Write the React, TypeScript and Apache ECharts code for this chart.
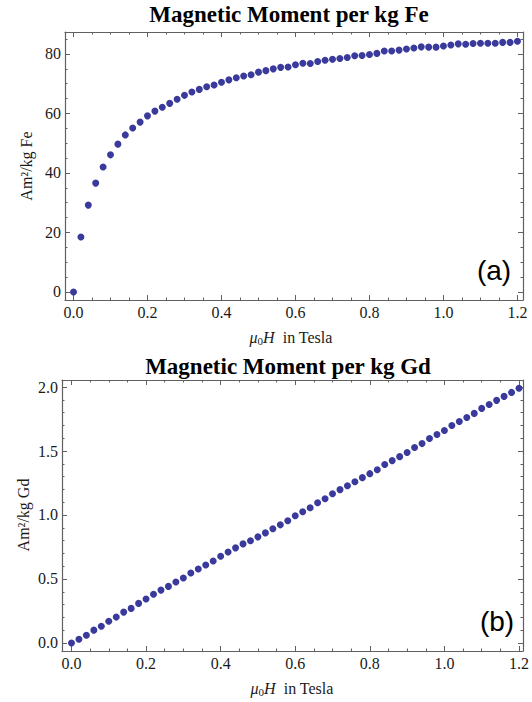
import React, { useEffect, useRef } from "react";
import * as echarts from "echarts";

// Applied field mu0 H in Tesla
const field = [
  0, 0.02, 0.04, 0.06, 0.08, 0.1, 0.12, 0.14, 0.16, 0.18,
  0.2, 0.22, 0.24, 0.26, 0.28, 0.3, 0.32, 0.34, 0.36, 0.38,
  0.4, 0.42, 0.44, 0.46, 0.48, 0.5, 0.52, 0.54, 0.56, 0.58,
  0.6, 0.62, 0.64, 0.66, 0.68, 0.7, 0.72, 0.74, 0.76, 0.78,
  0.8, 0.82, 0.84, 0.86, 0.88, 0.9, 0.92, 0.94, 0.96, 0.98,
  1.0, 1.02, 1.04, 1.06, 1.08, 1.1, 1.12, 1.14, 1.16, 1.18, 1.2,
];

// Magnetic moment per kg Fe (Am^2/kg)
const feMoment = [
  0, 18.5, 29.2, 36.6, 42.0, 46.1, 49.7, 52.8, 55.1, 57.1,
  59.2, 60.8, 62.1, 63.4, 64.8, 66.1, 67.2, 68.1, 69.0, 69.6,
  70.5, 71.3, 72.0, 72.6, 73.0, 73.9, 74.4, 75.0, 75.5, 75.6,
  76.4, 76.9, 76.8, 77.5, 77.9, 78.2, 78.5, 78.8, 79.4, 79.5,
  79.8, 80.2, 81.0, 81.0, 81.3, 81.7, 82.0, 82.4, 82.3, 82.3,
  82.7, 83.0, 83.4, 83.3, 83.5, 83.6, 83.6, 83.6, 83.9, 83.9, 84.3,
];

// Magnetic moment per kg Gd (Am^2/kg)
const gdMoment = [
  0, 0.029, 0.06, 0.1, 0.131, 0.17, 0.202, 0.241, 0.27, 0.309,
  0.343, 0.38, 0.413, 0.442, 0.476, 0.507, 0.547, 0.578, 0.609, 0.641,
  0.678, 0.711, 0.743, 0.774, 0.798, 0.829, 0.86, 0.892, 0.923, 0.955,
  0.994, 1.025, 1.056, 1.096, 1.127, 1.166, 1.198, 1.229, 1.26, 1.292,
  1.323, 1.354, 1.394, 1.425, 1.456, 1.488, 1.527, 1.558, 1.598, 1.629,
  1.66, 1.7, 1.731, 1.762, 1.794, 1.833, 1.864, 1.896, 1.927, 1.958, 1.99,
];

// Tick values
const xMajor = [0, 0.2, 0.4, 0.6, 0.8, 1.0, 1.2];
const xMinor = [
  0.05, 0.1, 0.15, 0.25, 0.3, 0.35, 0.45, 0.5, 0.55, 0.65, 0.7, 0.75,
  0.85, 0.9, 0.95, 1.05, 1.1, 1.15,
];
const feMajor = [0, 20, 40, 60, 80];
const feMinor = [5, 10, 15, 25, 30, 35, 45, 50, 55, 65, 70, 75, 85];
const gdMajor = [0, 0.5, 1.0, 1.5, 2.0];
const gdMinor = [
  0.1, 0.2, 0.3, 0.4, 0.6, 0.7, 0.8, 0.9, 1.1, 1.2, 1.3, 1.4, 1.6, 1.7,
  1.8, 1.9,
];

const FRAME = "#606060";
const SERIF = "'Liberation Serif', 'Times New Roman', serif";
const DOT = "#3a3a9c";

function axisSet(
  dim: "x" | "y",
  gridIndex: number,
  min: number,
  max: number,
  major: number[],
  minor: number[],
  fmt: (v: number) => string
) {
  const pos1 = dim === "x" ? "bottom" : "left";
  const pos2 = dim === "x" ? "top" : "right";
  const base = (position: string, ticks: number[], len: number, line: boolean, labels: boolean) => ({
    type: "value",
    gridIndex,
    position,
    min,
    max,
    splitLine: { show: false },
    axisLine: { show: line, onZero: false, lineStyle: { color: FRAME, width: 1.2 } },
    axisTick: {
      show: true,
      inside: true,
      length: len,
      customValues: ticks,
      lineStyle: { color: FRAME, width: 1 },
    },
    axisLabel: {
      show: labels,
      customValues: ticks,
      formatter: fmt,
      fontFamily: SERIF,
      fontSize: 16,
      color: "#1a1a1a",
      margin: 4,
    },
  });
  return [
    base(pos1, major, 5, true, true),
    base(pos1, minor, 2.5, false, false),
    base(pos2, major, 5, true, false),
    base(pos2, minor, 2.5, false, false),
  ];
}

export default function App() {
  const ref = useRef<HTMLDivElement>(null);

  useEffect(() => {
    if (!ref.current) return;
    const chart = echarts.init(ref.current, undefined, { renderer: "svg" });

    const xFmt = (v: number) => v.toFixed(1);
    const feFmt = (v: number) => String(Math.round(v));
    const gdFmt = (v: number) => v.toFixed(1);

    const xName = (x: number, y: number) => ({
      type: "text",
      x,
      y,
      style: {
        text: "{i|μ}{s|0}{i|H}{n|  in Tesla}",
        textAlign: "center",
        textVerticalAlign: "middle",
        rich: {
          i: { fontFamily: SERIF, fontStyle: "italic", fontSize: 16, fill: "#1a1a1a" },
          s: { fontFamily: SERIF, fontSize: 11, fill: "#1a1a1a", verticalAlign: "bottom", padding: [7, 0, 0, 0] },
          n: { fontFamily: SERIF, fontSize: 16, fill: "#1a1a1a" },
        },
      },
    });

    const yName = (x: number, y: number, text: string) => ({
      type: "text",
      x,
      y,
      rotation: Math.PI / 2,
      style: {
        text,
        textAlign: "center",
        textVerticalAlign: "middle",
        fontFamily: SERIF,
        fontSize: 16,
        fill: "#1a1a1a",
      },
    });

    const title = (x: number, y: number, text: string) => ({
      type: "text",
      x,
      y,
      style: {
        text,
        textAlign: "center",
        textVerticalAlign: "middle",
        fontFamily: SERIF,
        fontWeight: "bold",
        fontSize: 23,
        fill: "#000",
      },
    });

    const tag = (x: number, y: number, text: string) => ({
      type: "text",
      x,
      y,
      style: {
        text,
        textAlign: "center",
        textVerticalAlign: "middle",
        fontFamily: "'Liberation Sans', Arial, sans-serif",
        fontSize: 28,
        fill: "#000",
      },
    });

    chart.setOption({
      animation: false,
      grid: [
        { left: 65, top: 32, width: 458, height: 268 },
        { left: 62, top: 380, width: 463, height: 271 },
      ],
      xAxis: [
        ...axisSet("x", 0, -0.023, 1.215, xMajor, xMinor, xFmt),
        ...axisSet("x", 1, -0.0254, 1.2107, xMajor, xMinor, xFmt),
      ],
      yAxis: [
        ...axisSet("y", 0, -2.69, 87.39, feMajor, feMinor, feFmt),
        ...axisSet("y", 1, -0.063, 2.055, gdMajor, gdMinor, gdFmt),
      ],
      series: [
        {
          type: "scatter",
          xAxisIndex: 0,
          yAxisIndex: 0,
          symbolSize: 7,
          itemStyle: { color: DOT, opacity: 1 },
          data: field.map((x, i) => [x, feMoment[i]]),
        },
        {
          type: "scatter",
          xAxisIndex: 4,
          yAxisIndex: 4,
          symbolSize: 7,
          itemStyle: { color: DOT, opacity: 1 },
          data: field.map((x, i) => [x, gdMoment[i]]),
        },
      ],
      graphic: [
        title(289, 14, "Magnetic Moment per kg Fe"),
        title(288, 366, "Magnetic Moment per kg Gd"),
        xName(291, 337),
        xName(292, 688),
        yName(26, 166, "Am²/kg Fe"),
        yName(23, 515, "Am²/kg Gd"),
        tag(494, 270, "(a)"),
        tag(497, 621, "(b)"),
      ],
    });

    return () => chart.dispose();
  }, []);

  return (
    <div
      ref={ref}
      style={{ position: "absolute", left: 0, top: 0, width: 532, height: 702 }}
    />
  );
}
